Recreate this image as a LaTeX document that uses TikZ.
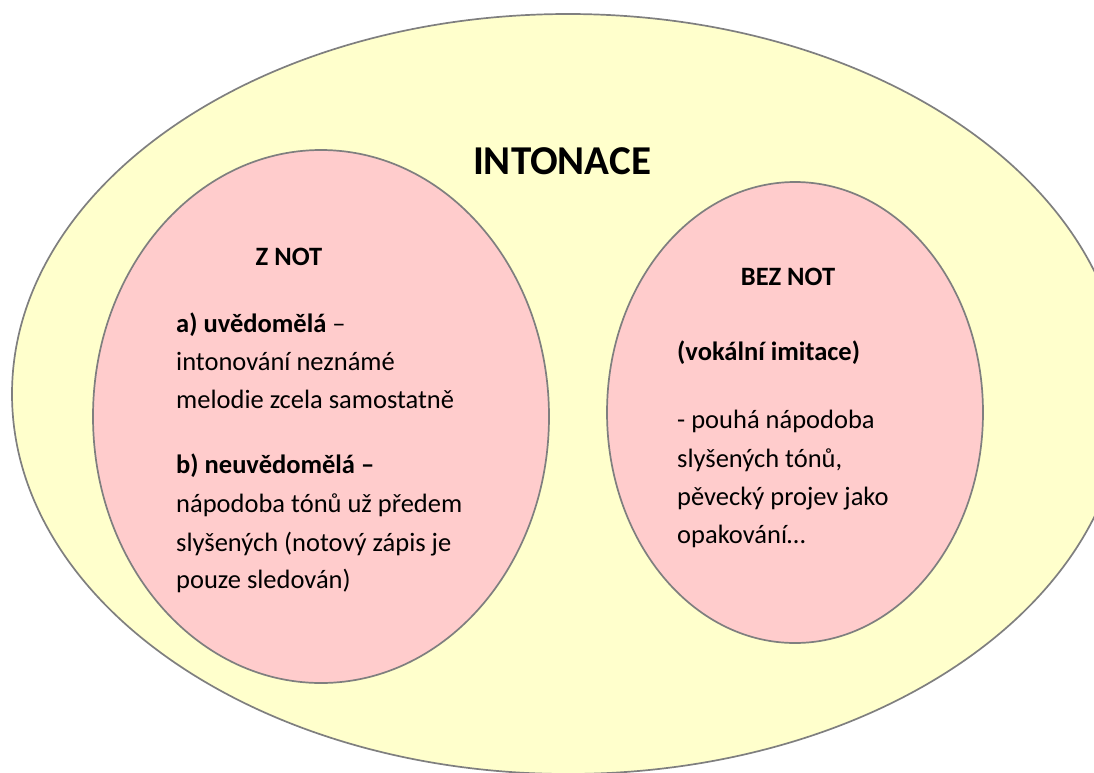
\documentclass[tikz,border=0pt]{standalone}
\usepackage{fontspec}
\setmainfont{Carlito}
\usepackage{tikz}

\definecolor{outer}{HTML}{FFFFCC}
\definecolor{inner}{HTML}{FFCCCC}
\definecolor{rim}{HTML}{7F7F7F}

\begin{document}
\begin{tikzpicture}[x=1pt, y=-1pt,
    bubble/.style={draw=rim, line width=1.7pt},
    title/.style={inner sep=0pt, anchor=base, font=\fontsize{41}{49}\selectfont\bfseries},
    head/.style={inner sep=0pt, anchor=base, font=\fontsize{26.5}{32}\selectfont\bfseries},
    txt/.style={inner sep=0pt, anchor=base west, font=\fontsize{26.5}{32}\selectfont}]
      % frame
      \useasboundingbox (0,0) rectangle (1094,772);
      \clip (0,0) rectangle (1094,772);
      % ellipses
      \draw[bubble, fill=outer] (568,394) ellipse [x radius=556, y radius=380];
      \draw[bubble, fill=inner] (321,416.5) ellipse [x radius=228, y radius=266.5];
      \draw[bubble, fill=inner] (795,412.5) ellipse [x radius=188, y radius=230.5];
      % headings
      \node[title] (intonace) at (562,174) {INTONACE};
      \node[head] (znot) at (289,265) {Z NOT};
      \node[head] (beznot) at (788,285) {BEZ NOT};
      % left ellipse text
      \foreach \n/\yy/\t in {1/332/{{\bfseries a) uvědomělá} –},
                             2/370/{intonování neznámé},
                             3/408/{melodie zcela samostatně},
                             4/473/{{\bfseries b) neuvědomělá –}},
                             5/512/{nápodoba tónů už předem},
                             6/551/{slyšených (notový zápis je},
                             7/588/{pouze sledován)}}
        \node[txt] (zl\n) at (176,\yy) {\t};
      % right ellipse text
      \foreach \n/\yy/\t in {1/360/{{\bfseries (vokální imitace)}},
                             2/428/{- pouhá nápodoba},
                             3/467/{slyšených tónů,},
                             4/505/{pěvecký projev jako},
                             5/543/{opakování…}}
        \node[txt] (bl\n) at (677,\yy) {\t};
    \end{tikzpicture}
\end{document}
